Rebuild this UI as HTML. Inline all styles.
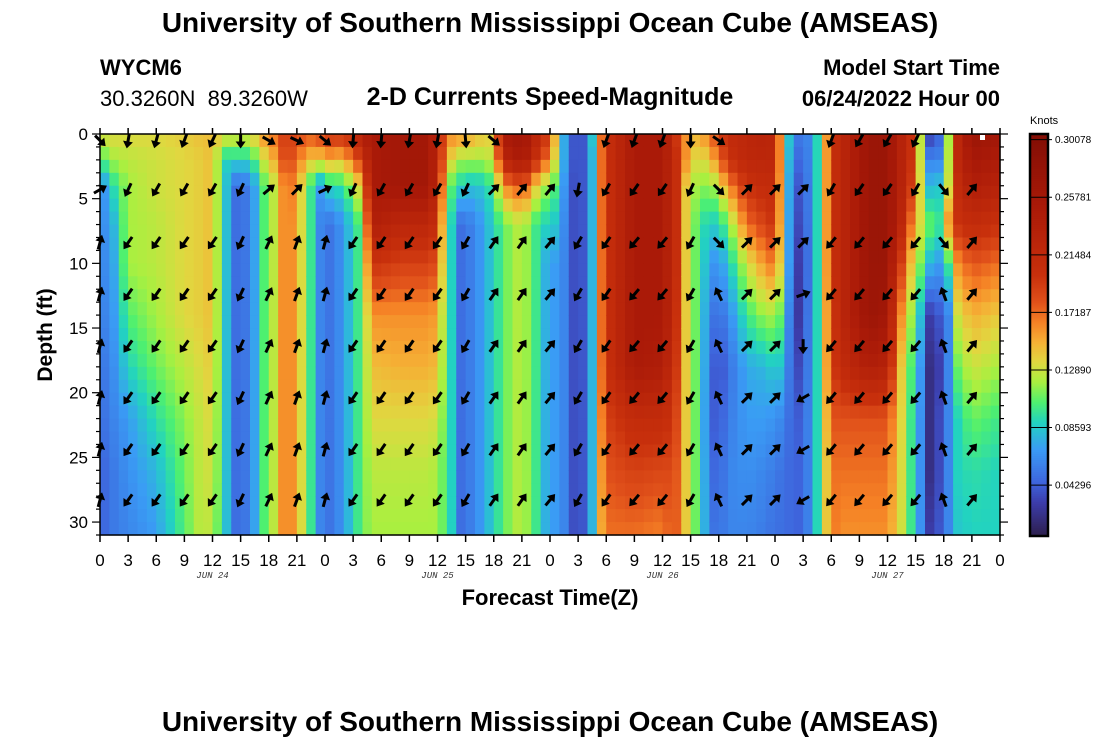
<!DOCTYPE html>
<html><head><meta charset="utf-8">
<style>
html,body{margin:0;padding:0;background:#fff;}
body{width:1100px;height:750px;overflow:hidden;position:relative;font-family:"Liberation Sans",sans-serif;}
.t{position:absolute;white-space:nowrap;color:#000;}
</style></head>
<body>
<div class="t" style="left:0;width:1100px;text-align:center;top:7px;font-size:28px;font-weight:bold;">University of Southern Mississippi Ocean Cube (AMSEAS)</div>
<div class="t" style="left:100px;top:55px;font-size:22px;font-weight:bold;">WYCM6</div>
<div class="t" style="left:100px;top:86px;font-size:22px;">30.3260N&nbsp;&nbsp;89.3260W</div>
<div class="t" style="left:0;width:1100px;text-align:center;top:83px;font-size:25px;font-weight:bold;">2-D Currents Speed-Magnitude</div>
<div class="t" style="right:100px;top:55px;font-size:22px;font-weight:bold;">Model Start Time</div>
<div class="t" style="right:100px;top:86px;font-size:22px;font-weight:bold;">06/24/2022 Hour 00</div>
<div class="t" style="left:0;width:1100px;text-align:center;top:706px;font-size:28px;font-weight:bold;">University of Southern Mississippi Ocean Cube (AMSEAS)</div>
<svg id="chart" width="1100" height="750" style="position:absolute;left:0;top:0;" xmlns="http://www.w3.org/2000/svg"></svg>
<script>
// ---- data ----
const depthLevels = [0,2,4,7,10,14,18,22,26,31];
const times = [0,1,1.5,3,6,9,11,12,13,13.7,14.5,16,17,17.5,18.5,19.5,20.5,22,22.7,23.5,24,25,26,27,28,29,32,35,36,37,37.7,38.5,40,41,42,43,44,45,46,47,48,49,50,51,52,52.7,53.3,54,57,60,61,62,62.5,63,64,65,66,67,69,71,72,73,74,75,76,76.7,77.3,78,79,82,84,85,86,87,87.7,88.5,89.5,90.5,91.5,93,96];
const speeds = [
[.135,.105,.06,.055,.055,.055,.05,.05,.045,.045],
[.135,.11,.08,.075,.07,.065,.06,.055,.05,.05],
[.135,.12,.095,.08,.075,.07,.065,.06,.055,.055],
[.135,.125,.12,.12,.12,.105,.09,.07,.065,.06],
[.135,.13,.13,.125,.125,.12,.11,.095,.08,.07],
[.14,.135,.135,.135,.135,.135,.125,.115,.11,.105],
[.145,.14,.14,.14,.14,.14,.135,.13,.13,.13],
[.145,.145,.145,.145,.145,.145,.14,.135,.13,.12],
[.14,.1,.1,.1,.1,.1,.1,.1,.1,.1],
[.135,.085,.075,.075,.075,.075,.075,.075,.075,.075],
[.135,.09,.05,.05,.05,.05,.05,.05,.05,.05],
[.135,.09,.055,.055,.055,.055,.055,.055,.055,.055],
[.15,.12,.09,.09,.09,.09,.09,.09,.09,.09],
[.16,.13,.105,.105,.105,.105,.105,.105,.105,.105],
[.17,.15,.125,.125,.125,.125,.125,.125,.125,.125],
[.19,.18,.16,.16,.16,.16,.16,.16,.16,.16],
[.19,.18,.165,.16,.16,.16,.16,.16,.16,.16],
[.18,.15,.12,.12,.12,.12,.12,.12,.12,.12],
[.18,.14,.09,.09,.09,.09,.09,.09,.09,.09],
[.19,.14,.07,.06,.06,.06,.06,.06,.06,.06],
[.2,.16,.09,.05,.05,.05,.05,.05,.05,.05],
[.2,.14,.09,.055,.055,.055,.055,.055,.055,.055],
[.2,.15,.1,.07,.07,.07,.07,.07,.07,.07],
[.21,.17,.12,.09,.09,.09,.09,.09,.09,.09],
[.24,.2,.15,.11,.11,.11,.11,.11,.11,.11],
[.25,.25,.25,.24,.2,.16,.145,.135,.125,.12],
[.26,.26,.26,.22,.19,.16,.15,.135,.125,.12],
[.26,.26,.26,.22,.19,.16,.15,.135,.125,.12],
[.22,.22,.22,.2,.18,.155,.145,.13,.12,.12],
[.17,.15,.12,.1,.1,.1,.1,.1,.1,.1],
[.16,.13,.1,.085,.085,.085,.085,.085,.085,.085],
[.16,.12,.09,.05,.05,.05,.05,.05,.05,.05],
[.15,.12,.08,.06,.06,.06,.06,.06,.06,.06],
[.14,.12,.09,.075,.075,.075,.075,.075,.075,.075],
[.14,.13,.1,.09,.09,.09,.09,.09,.09,.09],
[.25,.22,.16,.105,.105,.105,.105,.105,.105,.105],
[.26,.24,.17,.12,.12,.12,.12,.12,.12,.12],
[.26,.25,.18,.125,.125,.125,.125,.125,.125,.125],
[.25,.23,.16,.11,.11,.11,.11,.11,.11,.11],
[.2,.18,.12,.09,.09,.09,.09,.09,.09,.09],
[.2,.17,.12,.09,.065,.065,.065,.065,.065,.065],
[.1,.1,.09,.08,.075,.075,.075,.075,.075,.075],
[.05,.05,.045,.045,.045,.045,.045,.045,.045,.045],
[.03,.03,.03,.03,.03,.03,.03,.03,.03,.03],
[.05,.05,.05,.05,.05,.05,.05,.05,.05,.05],
[.1,.09,.09,.09,.09,.09,.09,.09,.09,.09],
[.16,.16,.16,.16,.16,.16,.16,.155,.15,.145],
[.2,.2,.2,.2,.2,.2,.2,.19,.18,.17],
[.25,.25,.25,.25,.25,.25,.25,.21,.19,.17],
[.25,.25,.25,.25,.25,.25,.24,.21,.185,.165],
[.22,.22,.22,.22,.22,.22,.21,.2,.185,.18],
[.17,.19,.19,.19,.19,.18,.18,.17,.17,.17],
[.16,.16,.14,.14,.14,.14,.14,.14,.14,.14],
[.15,.14,.12,.12,.12,.12,.12,.12,.12,.12],
[.15,.13,.12,.1,.1,.1,.1,.1,.1,.1],
[.17,.14,.11,.085,.07,.055,.05,.045,.05,.055],
[.19,.17,.13,.09,.065,.05,.035,.04,.045,.05],
[.21,.2,.16,.11,.085,.06,.05,.055,.06,.06],
[.22,.22,.2,.17,.13,.1,.075,.07,.065,.06],
[.23,.22,.21,.19,.16,.12,.08,.07,.06,.055],
[.22,.22,.21,.2,.17,.12,.09,.065,.055,.05],
[.11,.11,.11,.11,.11,.1,.08,.06,.05,.05],
[.06,.05,.04,.035,.03,.02,.03,.04,.045,.045],
[.05,.045,.04,.035,.03,.035,.04,.045,.045,.045],
[.07,.07,.07,.07,.07,.07,.07,.07,.07,.07],
[.1,.1,.1,.1,.1,.1,.1,.1,.1,.1],
[.14,.14,.14,.14,.14,.14,.14,.135,.13,.13],
[.2,.2,.2,.2,.2,.19,.19,.18,.17,.17],
[.22,.22,.22,.22,.22,.22,.21,.18,.17,.16],
[.27,.27,.27,.27,.27,.27,.24,.18,.17,.16],
[.27,.27,.27,.27,.27,.26,.23,.18,.17,.16],
[.24,.24,.24,.24,.21,.18,.16,.15,.145,.14],
[.22,.22,.22,.2,.17,.14,.12,.12,.12,.12],
[.19,.18,.17,.14,.12,.1,.09,.08,.08,.08],
[.1,.11,.12,.13,.11,.075,.06,.06,.06,.06],
[.03,.06,.08,.11,.08,.03,.02,.02,.02,.03],
[.045,.06,.085,.1,.07,.04,.03,.035,.035,.04],
[.12,.125,.13,.16,.1,.06,.06,.06,.06,.06],
[.22,.22,.21,.2,.16,.13,.11,.09,.09,.085],
[.27,.255,.24,.21,.18,.15,.13,.11,.095,.09],
[.26,.245,.23,.2,.17,.14,.12,.1,.09,.09]
];
// arrow directions (compass degrees) per 3-hour column, null = no arrow
const arrowHours = [0,3,6,9,12,15,18,21,24,27,30,33,36,39,42,45,48,51,54,57,60,63,66,69,72,75,78,81,84,87,90,93];
const arrowDepths = [0.5,4.3,8.4,12.4,16.4,20.4,24.4,28.3];
const dirTop =  [135,190,195,200,205,180,120,115,130,185,185,190,190,175,130,null,null,null,200,200,200,180,125,null,null,null,200,210,210,205,null,null];
const dirRow1 = [60,205,210,210,210,205,50,45,65,205,210,210,210,205,45,40,40,190,210,215,215,205,135,45,45,45,210,215,215,210,140,40];
const dirDeep = [15,215,215,215,215,205,25,20,15,215,215,215,215,210,35,35,40,210,215,220,220,210,-25,45,45,45,220,220,220,220,-20,40];
const deepOverrides = [[25,2,45],[25,3,70],[25,4,180],[25,5,240],[25,6,240],[25,7,240],[22,2,135],[30,2,140]];
const cbTicks = [0.04296,0.08593,0.1289,0.17187,0.21484,0.25781,0.30078];
const cbTickLabels = ["0.04296","0.08593","0.12890","0.17187","0.21484","0.25781","0.30078"];
const xTickHours = [0,3,6,9,12,15,18,21,24,27,30,33,36,39,42,45,48,51,54,57,60,63,66,69,72,75,78,81,84,87,90,93,96];
const dayLabels = ["JUN 24","JUN 25","JUN 26","JUN 27"];
const yTicks = [0,5,10,15,20,25,30];

// ---- scales ----
const X0=100,X1=1000,Y0=134,Y1=535, HMAX=96, DMAX=31;
const xs = h => X0 + h*(X1-X0)/HMAX;
const ys = d => Y0 + d*(Y1-Y0)/DMAX;
const VMIN=0.005, VMAX=0.305;
const cbY = v => 536 - (v-VMIN)/(VMAX-VMIN)*(536-134);
const stops=[[0.005,[45,30,75]],[0.03,[60,60,170]],[0.045,[62,100,220]],[0.07,[58,156,245]],[0.09,[34,211,192]],[0.105,[78,240,112]],[0.12,[168,240,64]],[0.135,[224,216,64]],[0.15,[245,176,53]],[0.165,[245,128,37]],[0.18,[224,80,26]],[0.2,[200,48,12]],[0.25,[170,26,8]],[0.305,[130,14,5]]];
function color(v){
  if(v<=stops[0][0]) return 'rgb('+stops[0][1]+')';
  for(let i=1;i<stops.length;i++){ if(v<=stops[i][0]){const a=stops[i-1],b=stops[i],t=(v-a[0])/(b[0]-a[0]);
    return 'rgb('+a[1].map((c,j)=>Math.round(c+(b[1][j]-c)*t)).join(',')+')';}}
  return 'rgb('+stops[stops.length-1][1]+')';
}
function interp1(arr,x){ if(x<=arr[0]) return [0,0,0]; for(let i=1;i<arr.length;i++){ if(x<=arr[i]) return [i-1,i,(x-arr[i-1])/(arr[i]-arr[i-1])]; } return [arr.length-1,arr.length-1,0]; }
function speedAt(h,d){
  const [ti,tj,tt]=interp1(times,h), [di,dj,dt]=interp1(depthLevels,d);
  const a=speeds[ti][di]*(1-dt)+speeds[ti][dj]*dt, b=speeds[tj][di]*(1-dt)+speeds[tj][dj]*dt;
  return a*(1-tt)+b*tt;
}
const NS='http://www.w3.org/2000/svg', svg=document.getElementById('chart');
function mk(tag,attrs,parent){const e=document.createElementNS(NS,tag);for(const k in attrs)e.setAttribute(k,attrs[k]);(parent||svg).appendChild(e);return e;}

// heatmap
const hm=mk('g',{});


for(let h=0;h<HMAX;h++){ for(let d=0;d<DMAX;d++){
  const r=mk('rect',{x:xs(h),y:ys(d),width:xs(h+1)-xs(h)+0.6,height:ys(d+1)-ys(d)+0.6,fill:color(speedAt(h+0.5,d+0.5))},hm);
  
  
}}
// arrows
const ag=mk('g',{});


function dirFor(k,r){ for(const o of deepOverrides){ if(o[0]===k&&o[1]===r) return o[2]; } return r===0?dirTop[k]:(r===1?dirRow1[k]:dirDeep[k]); }
arrowHours.forEach((h,k)=>{ arrowDepths.forEach((d,r)=>{
  const dir=dirFor(k,r); if(dir===null||dir===undefined) return;
  const cx=xs(h), cy=ys(d);
  const g=mk('g',{transform:`translate(${cx},${cy}) rotate(${dir})`},ag);
  
  
  mk('line',{x1:0,y1:7,x2:0,y2:-3,stroke:'#000','stroke-width':3},g);
  mk('polygon',{points:'0,-8 -5,-1 5,-1',fill:'#000'},g);
});});
// frame
const frame=mk('rect',{x:X0,y:Y0,width:X1-X0,height:Y1-Y0,fill:'none',stroke:'#000','stroke-width':1.5});


// x ticks
xTickHours.forEach((h,i)=>{
  mk('line',{x1:xs(h),y1:Y1,x2:xs(h),y2:Y1+7,stroke:'#000','stroke-width':1.5});
  mk('line',{x1:xs(h),y1:Y0,x2:xs(h),y2:Y0-6,stroke:'#000','stroke-width':1.5});
  const t=mk('text',{x:xs(h),y:Y1+31,'text-anchor':'middle','font-size':17,'font-family':'Liberation Sans, sans-serif'});
  t.textContent=String(h%24);
  
  
});
dayLabels.forEach((s,i)=>{
  const t=mk('text',{x:xs(12+24*i),y:Y1+43,'text-anchor':'middle','font-size':9,'font-style':'italic','font-family':'Liberation Mono, monospace',fill:'#333'});
  t.textContent=s;
  
  
});
const xt=mk('text',{x:550,y:605,'text-anchor':'middle','font-size':22,'font-weight':'bold','font-family':'Liberation Sans, sans-serif'});
xt.textContent='Forecast Time(Z)';


// y ticks
for(let d=0;d<=DMAX;d++){
  const L=(d%5===0)?8:4;
  mk('line',{x1:X0-L,y1:ys(d),x2:X0,y2:ys(d),stroke:'#000','stroke-width':1.2});
  mk('line',{x1:X1,y1:ys(d),x2:X1+L,y2:ys(d),stroke:'#000','stroke-width':1.2});
}
yTicks.forEach(d=>{
  const t=mk('text',{x:X0-12,y:ys(d)+6,'text-anchor':'end','font-size':17,'font-family':'Liberation Sans, sans-serif'});
  t.textContent=String(d);
  
  
});
const yt=mk('text',{x:52,y:335,'text-anchor':'middle','font-size':21,'font-weight':'bold','font-family':'Liberation Sans, sans-serif',transform:'rotate(-90 52 335)'});
yt.textContent='Depth (ft)';


// colorbar
const cb=mk('g',{});


for(let i=0;i<200;i++){ const v0=VMIN+(VMAX-VMIN)*i/200, v1=VMIN+(VMAX-VMIN)*(i+1)/200;
  mk('rect',{x:1030,y:cbY(v1),width:18,height:cbY(v0)-cbY(v1)+0.5,fill:color((v0+v1)/2)},cb); }
mk('rect',{x:1030,y:134,width:18,height:402,fill:'none',stroke:'#000','stroke-width':2.5},cb);
cbTicks.forEach((v,i)=>{
  mk('line',{x1:1030,y1:cbY(v),x2:1052,y2:cbY(v),stroke:'#000','stroke-width':1},cb);
  const t=mk('text',{x:1055,y:cbY(v)+3.5,'font-size':10,'font-family':'Liberation Sans, sans-serif'},cb);
  t.textContent=cbTickLabels[i];
  
  
});
const kt=mk('text',{x:1030,y:124,'font-size':11,'font-family':'Liberation Sans, sans-serif'});
kt.textContent='Knots';


mk('rect',{x:980,y:135,width:5,height:5,fill:'#fff'});
</script>
</body></html>
